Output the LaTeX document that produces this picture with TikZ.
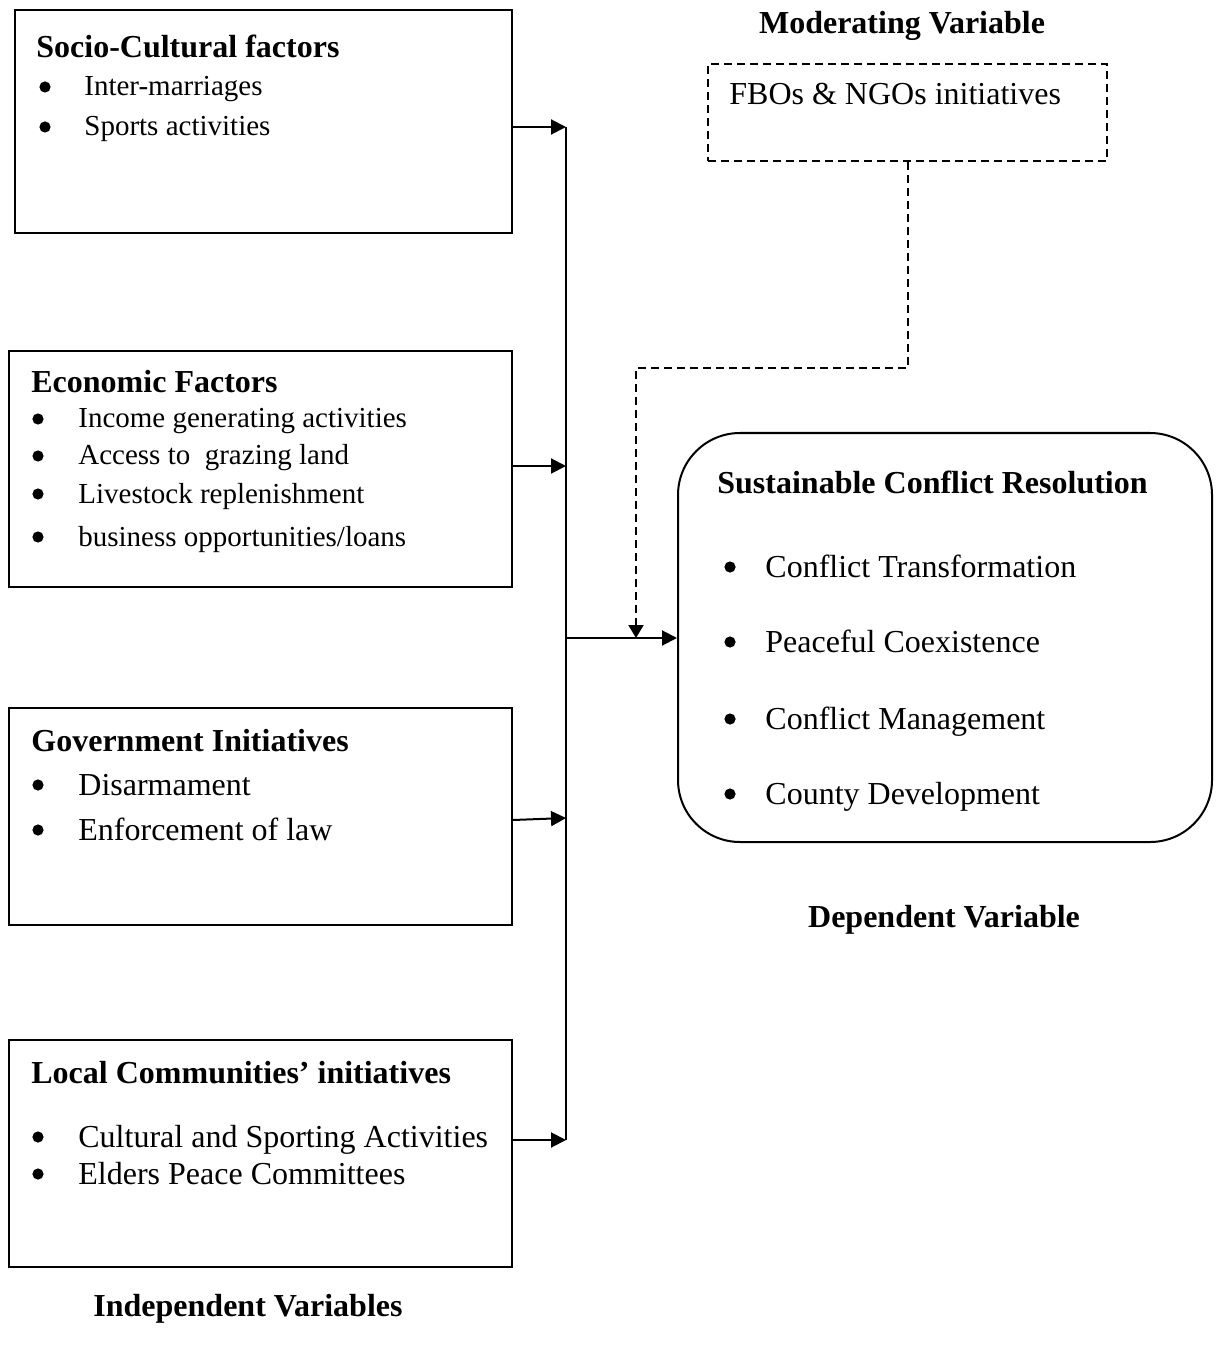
\documentclass[tikz,border=0pt]{standalone}
\usepackage{fontspec}
\setmainfont{Liberation Serif}
\usetikzlibrary{arrows.meta,fit}

\begin{document}
\begin{tikzpicture}[x=0.5pt,y=-0.5pt,
  box/.style={draw=black, line width=1pt, inner sep=0pt},
  ttl/.style={anchor=base west, inner sep=0pt, font=\fontsize{16}{19}\selectfont\bfseries},
  itm/.style={anchor=base west, inner sep=0pt, font=\fontsize{16}{19}\selectfont},
  sitm/.style={anchor=base west, inner sep=0pt, font=\fontsize{14.5}{17}\selectfont},
  dot/.style={circle, fill=black, inner sep=0pt, minimum size=5.6pt},
  arr/.style={line width=1pt, -{Triangle[length=7.5pt,width=7.5pt]}},
  darr/.style={line width=1pt, dash pattern=on 4pt off 2.5pt, -{Triangle[length=6.5pt,width=7.5pt]}}]
\useasboundingbox (0,0) rectangle (1221,1347);

% independent variables
\node[box, fit={(15,10) (512,233)}] (soc) {};
\node[ttl] (soct) at (36,58) {Socio-Cultural factors};
\node[dot] (socd1) at (45,87) {};
\node[sitm] (soci1) at (84,96) {Inter-marriages};
\node[dot] (socd2) at (45,127) {};
\node[sitm] (soci2) at (84,136) {Sports activities};

\node[box, fit={(9,351) (512,587)}] (eco) {};
\node[ttl] (ecot) at (31,393) {Economic Factors};
\node[dot] (ecod1) at (38,419) {};
\node[sitm] (ecoi1) at (78,428) {Income generating activities};
\node[dot] (ecod2) at (38,456) {};
\node[sitm] (ecoi2) at (78,465) {Access to\ \ grazing land};
\node[dot] (ecod3) at (38,494) {};
\node[sitm] (ecoi3) at (78,503) {Livestock replenishment};
\node[dot] (ecod4) at (38,537) {};
\node[sitm] (ecoi4) at (78,546) {business opportunities/loans};

\node[box, fit={(9,708) (512,925)}] (gov) {};
\node[ttl] (govt) at (31,751) {Government Initiatives};
\node[dot] (govd1) at (38,785) {};
\node[itm] (govi1) at (78,795) {Disarmament};
\node[dot] (govd2) at (38,830) {};
\node[itm] (govi2) at (78,840) {Enforcement of law};

\node[box, fit={(9,1040) (512,1267)}] (loc) {};
\node[ttl] (loct) at (31,1083) {Local Communities’ initiatives};
\node[dot] (locd1) at (38,1137) {};
\node[itm] (loci1) at (78,1147) {Cultural and Sporting Activities};
\node[dot] (locd2) at (38,1174) {};
\node[itm] (loci2) at (78,1184) {Elders Peace Committees};

% moderating variable
\node[draw=black, line width=0.8pt, dash pattern=on 4pt off 2.5pt, inner sep=0pt,
  fit={(708,64) (1107,161)}] (mod) {};
\node[itm] (modi) at (729,105) {FBOs \& NGOs initiatives};

% dependent variable
\node[box, rounded corners=31pt, fit={(678,433) (1212,842)}] (res) {};
\node[ttl] (rest) at (717,493) {Sustainable Conflict Resolution};
\node[dot] (resd1) at (730,567) {};
\node[itm] (resi1) at (765,577) {Conflict Transformation};
\node[dot] (resd2) at (730,642) {};
\node[itm] (resi2) at (765,652) {Peaceful Coexistence};
\node[dot] (resd3) at (730,719) {};
\node[itm] (resi3) at (765,729) {Conflict Management};
\node[dot] (resd4) at (730,794) {};
\node[itm] (resi4) at (765,804) {County Development};

% labels
\node[ttl, anchor=base] (modlbl) at (902,34) {Moderating Variable};
\node[ttl, anchor=base] (deplbl) at (944,927) {Dependent Variable};
\node[ttl, anchor=base] (indlbl) at (248,1316) {Independent Variables};

% connectors
\coordinate (bustop) at (566,127);
\coordinate (busbot) at (566,1140);
\coordinate (ecoin) at (566,466);
\coordinate (govin) at (566,818);
\coordinate (hub) at (566,638);
\coordinate (join) at (636,638);
\coordinate (kink) at (907,368);
\draw[line width=1pt] (bustop) -- (busbot);
\draw[arr] (soc.east |- bustop) -- (bustop);
\draw[arr] (eco.east |- ecoin) -- (ecoin);
\draw[arr] ([yshift=-1pt]gov.east |- govin) -- (govin);
\draw[arr] (loc.east |- busbot) -- (busbot);
\draw[arr] (hub) -- (res.west |- hub);
\draw[darr] (mod.south) -- (mod.south |- kink) -| (join);
\end{tikzpicture}
\end{document}
